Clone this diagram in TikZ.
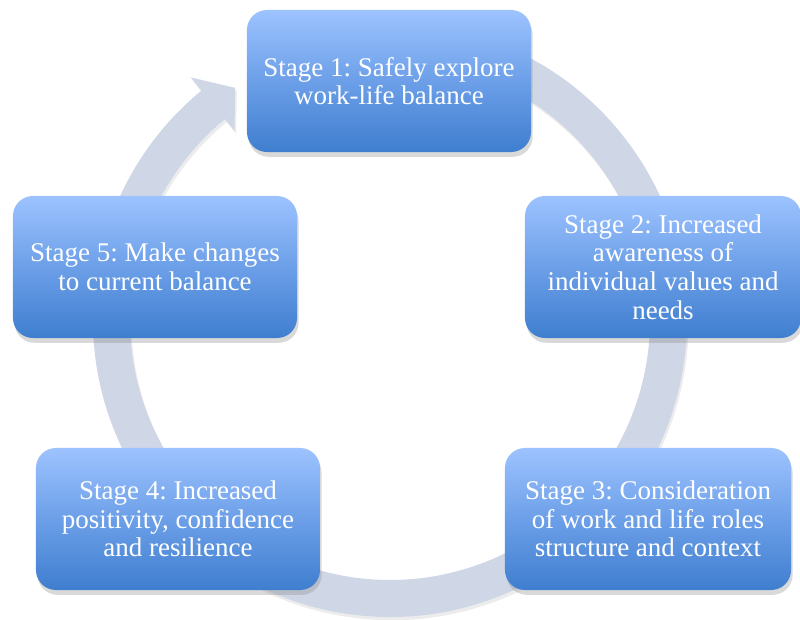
\documentclass[tikz,border=0pt]{standalone}
\usepackage{fontspec}
\setmainfont{Liberation Serif}
\frenchspacing
\usetikzlibrary{shadows}
\usetikzlibrary{positioning}
\definecolor{ringcol}{HTML}{CFD7E6}
\definecolor{boxtop}{HTML}{9DC3FF}
\definecolor{boxmid}{HTML}{6C9FE8}
\definecolor{boxbot}{HTML}{3F7ECF}

\begin{document}
\begin{tikzpicture}[
  x=0.025cm, y=0.025cm,
  stage/.style ={
    rectangle,
    rounded corners=5mm,
    minimum width=#1,
    minimum height=3.55cm,
    inner sep=0pt,
    top color=boxtop,
    bottom color=boxbot,
    middle color=boxmid,
    text=white,
    align=center,
    font=\fontsize{19.2}{20.3}\selectfont,
    drop shadow={opacity=0.3, shadow xshift=0.4mm, shadow yshift=-1.2mm}},
  stage/.default=7.1cm,
  ringband/.style={
    fill=ringcol,
    drop shadow={opacity=0.15, shadow xshift=0.4mm, shadow yshift=-0.8mm}},
]

  \def\rout{297}%
  \def\rin{260}%
  \def\rtail{80}%
  \def\rbase{-230.6}%
  \useasboundingbox (0,0) rectangle (800,619);

  % Cycle ring with arrow head
  \coordinate (hub) at (390,299);
  \begin{scope}[shift={(hub)}]
    \fill[ringband] (\rtail:\rout) arc[start angle=\rtail, end angle=\rbase, radius=\rout]
        -- (129.4:314) -- (123.7:279) -- (129.4:245) -- (129.4:\rin)
        arc[start angle=\rbase, end angle=\rtail, radius=\rin] -- cycle;
  \end{scope}

  % Stages
  \node[stage] (s1) at (389,538) {Stage 1: Safely explore\\work-life balance};
  \node[stage=6.9cm] (s2) at (663,352)
      {Stage 2: Increased\\awareness of\\individual values and\\needs};
  \node[stage=7.15cm] (s3) at (648,100)
      {Stage 3: Consideration\\of work and life roles\\structure and context};
  \node[stage] (s4) at (178,100)
      {Stage 4: Increased\\positivity, confidence\\and resilience};
  \node[stage] (s5) at (155,352) {Stage 5: Make changes\\to current balance};

\end{tikzpicture}
\end{document}
